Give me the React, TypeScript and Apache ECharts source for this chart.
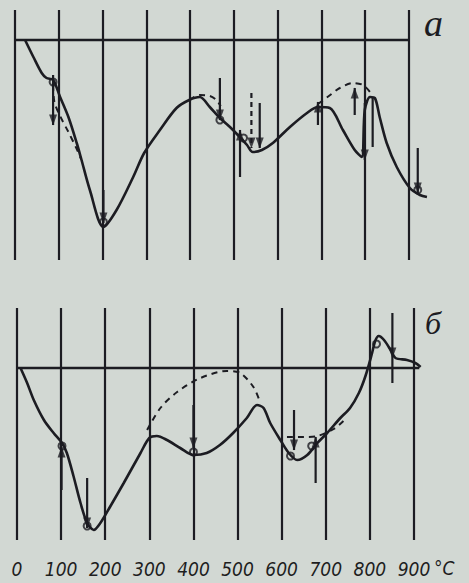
import React, { useEffect, useRef } from "react";
import * as echarts from "echarts";

// Temperature tick labels (°C)
const tickLabels = ["0", "100", "200", "300", "400", "500", "600", "700", "800", "900"];

// Panel "а" — solid DTA curve
const topSolidT = [23, 42, 61, 72, 87, 103, 122, 141, 152, 171, 202, 232, 270, 295, 331, 369, 398, 422, 445, 468, 491, 509, 530, 543, 564, 589, 628, 667, 692, 719, 749, 776, 792, 799, 811, 822, 833, 849, 872, 902, 925, 941];
const topSolidV = [0, -17, -33, -38, -40, -57, -77, -103, -120, -150, -187, -170, -137, -113, -90, -68, -60, -57, -67, -78, -87, -95, -105, -112, -110, -103, -87, -73, -67, -68, -90, -110, -117, -70, -57, -58, -77, -103, -127, -148, -155, -157];
// Panel "а" — dashed curves
const topDash1T = [87, 90, 103, 122, 140, 150];
const topDash1V = [-45, -62, -76, -92, -108, -118];
const topDash2T = [398, 422, 445, 460, 470];
const topDash2V = [-60, -55, -56, -60, -66];
const topDash3T = [692, 720, 742, 772, 795, 811];
const topDash3V = [-64, -55, -48, -43, -45, -52];
// Panel "а" — arrows: [T, from, to, dashed(1/0), arrowhead(1/0)]
const topArrows = [
  [87, -35, -85, 0, 1],
  [202, -150, -183, 0, 1],
  [468, -38, -80, 0, 1],
  [514, -137, -90, 0, 1],
  [540, -53, -108, 1, 1],
  [559, -63, -108, 0, 1],
  [692, -85, -62, 0, 1],
  [776, -75, -48, 0, 1],
  [799, -63, -120, 0, 1],
  [817, -57, -107, 0, 0],
  [920, -108, -153, 0, 1],
];
const topCircles = [[87, -42], [468, -80], [202, -182], [920, -150], [522, -98]];
const topBaseEnd = 900;

// Panel "б" — solid DTA curve
const botSolidT = [8, 23, 38, 61, 83, 102, 113, 128, 144, 159, 174, 189, 212, 242, 280, 300, 317, 340, 370, 400, 430, 460, 490, 521, 544, 559, 574, 597, 616, 635, 658, 681, 703, 733, 755, 775, 790, 805, 812, 820, 832, 847, 858, 884, 903, 915];
const botSolidV = [0, -15, -32, -52, -65, -75, -85, -108, -135, -155, -162, -155, -138, -115, -85, -70, -68, -72, -80, -87, -85, -77, -65, -50, -37, -40, -55, -72, -85, -92, -87, -75, -65, -50, -40, -25, -8, 15, 27, 32, 28, 18, 10, 8, 5, 1];
// Panel "б" — dashed curves
const botDash1T = [295, 325, 363, 416, 476, 506, 536, 550];
const botDash1V = [-62, -40, -24, -10, -3, -5, -19, -33];
const botDash2T = [612, 650, 681, 718, 740];
const botDash2V = [-69, -69, -68, -61, -53];
// Panel "б" — arrows
const botArrows = [
  [101, -122, -79, 0, 1],
  [159, -110, -160, 0, 1],
  [400, -37, -80, 0, 1],
  [628, -42, -82, 0, 1],
  [677, -115, -69, 0, 1],
  [851, 55, 10, 0, 1],
  [851, 10, -15, 0, 0],
];
const botCircles = [[102, -78], [159, -158], [620, -88], [668, -78], [815, 24], [400, -84]];
const botBaseEnd = 912;

const X_MAX = 950; // axis room past 900 °C for the curve tails
const INK = "#1c1c22";
const BG = "#d2d8d3";

const pairs = (T: number[], V: number[]) => T.map((t, i) => [t, V[i]]);

function curve(idx: number, T: number[], V: number[], dashed: boolean) {
  return {
    type: "line",
    xAxisIndex: idx,
    yAxisIndex: idx,
    data: pairs(T, V),
    symbol: "none",
    smooth: 0.3,
    clip: false,
    silent: true,
    z: 3,
    lineStyle: { color: INK, width: dashed ? 2 : 2.6, type: dashed ? [6, 5] : "solid" },
  };
}

function segment(idx: number, a: number[], b: number[], dashed: boolean, width: number) {
  return {
    type: "line",
    xAxisIndex: idx,
    yAxisIndex: idx,
    data: [a, b],
    symbol: "none",
    clip: false,
    silent: true,
    z: 3,
    lineStyle: { color: INK, width, type: dashed ? [5, 4] : "solid" },
  };
}

function arrows(idx: number, arr: number[][]) {
  const out: any[] = arr.map((a) => segment(idx, [a[0], a[1]], [a[0], a[2]], !!a[3], 2.2));
  const heads = arr
    .filter((a) => a[4])
    .map((a) => {
      const down = a[2] < a[1];
      return {
        value: [a[0], a[2]],
        symbolRotate: down ? 180 : 0,
        symbolOffset: [0, down ? -5 : 5],
      };
    });
  out.push({
    type: "scatter",
    xAxisIndex: idx,
    yAxisIndex: idx,
    data: heads,
    symbol: "triangle",
    symbolSize: [8, 11],
    clip: false,
    silent: true,
    z: 4,
    itemStyle: { color: INK },
  });
  return out;
}

function circles(idx: number, pts: number[][]) {
  return {
    type: "scatter",
    xAxisIndex: idx,
    yAxisIndex: idx,
    data: pts,
    symbol: "circle",
    symbolSize: 7,
    silent: true,
    clip: false,
    z: 4,
    itemStyle: { color: "rgba(0,0,0,0)", borderColor: INK, borderWidth: 2 },
  };
}

const labelFont = "'Liberation Sans Narrow', 'DejaVu Sans Condensed', 'Liberation Sans', sans-serif";

export default function App() {
  const ref = useRef<HTMLDivElement>(null);
  useEffect(() => {
    if (!ref.current) return;
    const chart = echarts.init(ref.current, null, { renderer: "svg" });
    const xBase = (idx: number, showLabels: boolean) => ({
      type: "value",
      gridIndex: idx,
      min: 0,
      max: X_MAX,
      interval: 100,
      axisLine: { show: false },
      axisTick: { show: false },
      splitLine: { show: true, showMaxLine: false, lineStyle: { color: INK, width: 2.2 } },
      axisLabel: {
        show: showLabels,
        showMaxLabel: false,
        margin: 19,
        color: "#1e1e1e",
        fontSize: 19,
        fontStyle: "italic",
        fontFamily: labelFont,
        formatter: (v: number) => (v % 100 === 0 ? tickLabels[v / 100] ?? "" : ""),
      },
    });
    const yBase = (idx: number, min: number, max: number) => ({
      type: "value",
      gridIndex: idx,
      min,
      max,
      show: false,
      splitLine: { show: false },
    });

    chart.setOption({
      animation: false,
      backgroundColor: BG,
      grid: [
        { left: 15, width: (394 * X_MAX) / 900, top: 10, height: 250 },
        { left: 17, width: (397 * X_MAX) / 900, top: 308, height: 232 },
      ],
      xAxis: [xBase(0, false), xBase(1, true)],
      yAxis: [yBase(0, -220, 30), yBase(1, -172, 60)],
      series: [
        segment(0, [0, 0], [topBaseEnd, 0], false, 2.4),
        curve(0, topSolidT, topSolidV, false),
        curve(0, topDash1T, topDash1V, true),
        curve(0, topDash2T, topDash2V, true),
        curve(0, topDash3T, topDash3V, true),
        ...arrows(0, topArrows),
        circles(0, topCircles),
        segment(1, [0, 0], [botBaseEnd, 0], false, 2.4),
        curve(1, botSolidT, botSolidV, false),
        curve(1, botDash1T, botDash1V, true),
        curve(1, botDash2T, botDash2V, true),
        ...arrows(1, botArrows),
        circles(1, botCircles),
      ],
      graphic: [
        {
          type: "text",
          left: 424,
          top: 4,
          style: { text: "a", fontSize: 38, fontStyle: "italic", fontFamily: "'Liberation Serif', serif", fill: INK },
        },
        {
          type: "text",
          left: 425,
          top: 307,
          style: { text: "б", fontSize: 32, fontStyle: "italic", fontFamily: "'Liberation Serif', serif", fill: INK },
        },
        {
          type: "text",
          left: 434,
          top: 558,
          style: { text: "°C", fontSize: 19, fontStyle: "italic", fontFamily: labelFont, fill: "#1e1e1e" },
        },
      ],
    });
    return () => chart.dispose();
  }, []);
  return (
    <div
      ref={ref}
      style={{ position: "fixed", left: 0, top: 0, width: 469, height: 583, background: BG }}
    />
  );
}
